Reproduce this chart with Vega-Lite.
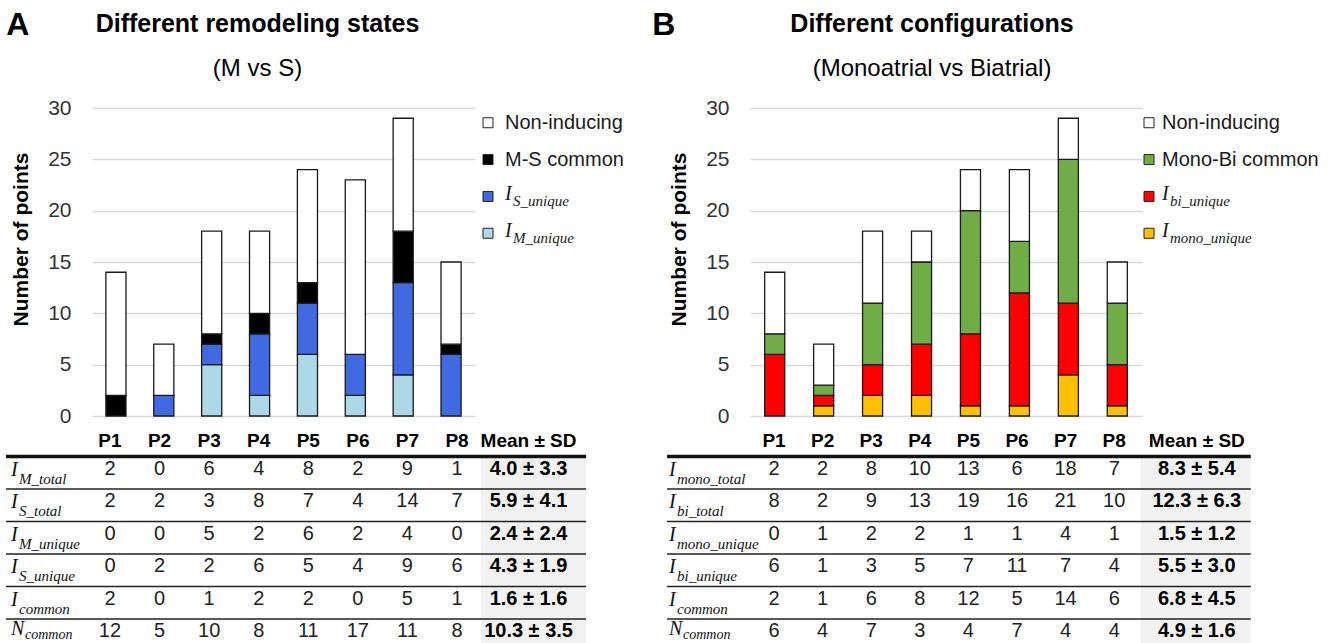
{
  "$schema": "https://vega.github.io/schema/vega-lite/v6.json",
  "background": "white",
  "padding": {"left": 4, "top": 9, "right": 5, "bottom": 0},
  "config": {
    "view": {"stroke": null},
    "font": "Liberation Sans, Arial, sans-serif",
    "title": {"color": "#000", "subtitleColor": "#000"}
  },
  "datasets": {
    "barsA": [
      {"p": "P1", "cat": "M-S common", "n": 2}, {"p": "P1", "cat": "Non-inducing", "n": 12},
      {"p": "P2", "cat": "I_S_unique", "n": 2}, {"p": "P2", "cat": "Non-inducing", "n": 5},
      {"p": "P3", "cat": "I_M_unique", "n": 5}, {"p": "P3", "cat": "I_S_unique", "n": 2}, {"p": "P3", "cat": "M-S common", "n": 1}, {"p": "P3", "cat": "Non-inducing", "n": 10},
      {"p": "P4", "cat": "I_M_unique", "n": 2}, {"p": "P4", "cat": "I_S_unique", "n": 6}, {"p": "P4", "cat": "M-S common", "n": 2}, {"p": "P4", "cat": "Non-inducing", "n": 8},
      {"p": "P5", "cat": "I_M_unique", "n": 6}, {"p": "P5", "cat": "I_S_unique", "n": 5}, {"p": "P5", "cat": "M-S common", "n": 2}, {"p": "P5", "cat": "Non-inducing", "n": 11},
      {"p": "P6", "cat": "I_M_unique", "n": 2}, {"p": "P6", "cat": "I_S_unique", "n": 4}, {"p": "P6", "cat": "Non-inducing", "n": 17},
      {"p": "P7", "cat": "I_M_unique", "n": 4}, {"p": "P7", "cat": "I_S_unique", "n": 9}, {"p": "P7", "cat": "M-S common", "n": 5}, {"p": "P7", "cat": "Non-inducing", "n": 11},
      {"p": "P8", "cat": "I_S_unique", "n": 6}, {"p": "P8", "cat": "M-S common", "n": 1}, {"p": "P8", "cat": "Non-inducing", "n": 8}
    ],
    "barsB": [
      {"p": "P1", "cat": "I_bi_unique", "n": 6}, {"p": "P1", "cat": "Mono-Bi common", "n": 2}, {"p": "P1", "cat": "Non-inducing", "n": 6},
      {"p": "P2", "cat": "I_mono_unique", "n": 1}, {"p": "P2", "cat": "I_bi_unique", "n": 1}, {"p": "P2", "cat": "Mono-Bi common", "n": 1}, {"p": "P2", "cat": "Non-inducing", "n": 4},
      {"p": "P3", "cat": "I_mono_unique", "n": 2}, {"p": "P3", "cat": "I_bi_unique", "n": 3}, {"p": "P3", "cat": "Mono-Bi common", "n": 6}, {"p": "P3", "cat": "Non-inducing", "n": 7},
      {"p": "P4", "cat": "I_mono_unique", "n": 2}, {"p": "P4", "cat": "I_bi_unique", "n": 5}, {"p": "P4", "cat": "Mono-Bi common", "n": 8}, {"p": "P4", "cat": "Non-inducing", "n": 3},
      {"p": "P5", "cat": "I_mono_unique", "n": 1}, {"p": "P5", "cat": "I_bi_unique", "n": 7}, {"p": "P5", "cat": "Mono-Bi common", "n": 12}, {"p": "P5", "cat": "Non-inducing", "n": 4},
      {"p": "P6", "cat": "I_mono_unique", "n": 1}, {"p": "P6", "cat": "I_bi_unique", "n": 11}, {"p": "P6", "cat": "Mono-Bi common", "n": 5}, {"p": "P6", "cat": "Non-inducing", "n": 7},
      {"p": "P7", "cat": "I_mono_unique", "n": 4}, {"p": "P7", "cat": "I_bi_unique", "n": 7}, {"p": "P7", "cat": "Mono-Bi common", "n": 14}, {"p": "P7", "cat": "Non-inducing", "n": 4},
      {"p": "P8", "cat": "I_mono_unique", "n": 1}, {"p": "P8", "cat": "I_bi_unique", "n": 4}, {"p": "P8", "cat": "Mono-Bi common", "n": 6}, {"p": "P8", "cat": "Non-inducing", "n": 4}
    ],
    "legA": [
      {"cat": "Non-inducing", "main": "Non-inducing", "sub": ""},
      {"cat": "M-S common", "main": "M-S common", "sub": ""},
      {"cat": "I_S_unique", "main": "I", "sub": "S_unique"},
      {"cat": "I_M_unique", "main": "I", "sub": "M_unique"}
    ],
    "legB": [
      {"cat": "Non-inducing", "main": "Non-inducing", "sub": ""},
      {"cat": "Mono-Bi common", "main": "Mono-Bi common", "sub": ""},
      {"cat": "I_bi_unique", "main": "I", "sub": "bi_unique"},
      {"cat": "I_mono_unique", "main": "I", "sub": "mono_unique"}
    ],
    "tabA": [
      {"r": 1, "main": "I", "sub": "M_total", "P1": 2, "P2": 0, "P3": 6, "P4": 4, "P5": 8, "P6": 2, "P7": 9, "P8": 1, "mean": "4.0 ± 3.3"},
      {"r": 2, "main": "I", "sub": "S_total", "P1": 2, "P2": 2, "P3": 3, "P4": 8, "P5": 7, "P6": 4, "P7": 14, "P8": 7, "mean": "5.9 ± 4.1"},
      {"r": 3, "main": "I", "sub": "M_unique", "P1": 0, "P2": 0, "P3": 5, "P4": 2, "P5": 6, "P6": 2, "P7": 4, "P8": 0, "mean": "2.4 ± 2.4"},
      {"r": 4, "main": "I", "sub": "S_unique", "P1": 0, "P2": 2, "P3": 2, "P4": 6, "P5": 5, "P6": 4, "P7": 9, "P8": 6, "mean": "4.3 ± 1.9"},
      {"r": 5, "main": "I", "sub": "common", "P1": 2, "P2": 0, "P3": 1, "P4": 2, "P5": 2, "P6": 0, "P7": 5, "P8": 1, "mean": "1.6 ± 1.6"},
      {"r": 6, "main": "N", "sub": "common", "P1": 12, "P2": 5, "P3": 10, "P4": 8, "P5": 11, "P6": 17, "P7": 11, "P8": 8, "mean": "10.3 ± 3.5"}
    ],
    "tabB": [
      {"r": 1, "main": "I", "sub": "mono_total", "P1": 2, "P2": 2, "P3": 8, "P4": 10, "P5": 13, "P6": 6, "P7": 18, "P8": 7, "mean": "8.3 ± 5.4"},
      {"r": 2, "main": "I", "sub": "bi_total", "P1": 8, "P2": 2, "P3": 9, "P4": 13, "P5": 19, "P6": 16, "P7": 21, "P8": 10, "mean": "12.3 ± 6.3"},
      {"r": 3, "main": "I", "sub": "mono_unique", "P1": 0, "P2": 1, "P3": 2, "P4": 2, "P5": 1, "P6": 1, "P7": 4, "P8": 1, "mean": "1.5 ± 1.2"},
      {"r": 4, "main": "I", "sub": "bi_unique", "P1": 6, "P2": 1, "P3": 3, "P4": 5, "P5": 7, "P6": 11, "P7": 7, "P8": 4, "mean": "5.5 ± 3.0"},
      {"r": 5, "main": "I", "sub": "common", "P1": 2, "P2": 1, "P3": 6, "P4": 8, "P5": 12, "P6": 5, "P7": 14, "P8": 6, "mean": "6.8 ± 4.5"},
      {"r": 6, "main": "N", "sub": "common", "P1": 6, "P2": 4, "P3": 7, "P4": 3, "P5": 4, "P6": 7, "P7": 4, "P8": 4, "mean": "4.9 ± 1.6"}
    ]
  },
  "spacing": 28,
  "hconcat": [
    {
      "title": {"text": "A", "anchor": "start", "frame": "bounds", "fontSize": 32, "fontWeight": "bold", "offset": -30, "dx": 2},
      "spacing": 0,
      "vconcat": [
        {
          "spacing": 6,
          "hconcat": [
            {
              "width": 383, "height": 308,
              "data": {"name": "barsA"},
              "title": {"text": "Different remodeling states", "subtitle": "(M vs S)", "anchor": "middle", "dx": -26, "fontSize": 25, "fontWeight": "bold", "subtitleFontSize": 24, "subtitlePadding": 20, "offset": 16},
              "transform": [{"calculate": "indexof(['I_M_unique','I_mono_unique','I_S_unique','I_bi_unique','M-S common','Mono-Bi common','Non-inducing'], datum.cat)", "as": "ord"}],
              "mark": {"type": "bar", "stroke": "#1a1a1a", "strokeWidth": 1.3},
              "encoding": {
                "x": {"field": "p", "type": "nominal", "axis": null, "scale": {"paddingInner": 0.58, "paddingOuter": 0.29}},
                "y": {"field": "n", "type": "quantitative", "stack": "zero", "scale": {"domain": [0, 30], "nice": false},
                  "axis": {"values": [0, 5, 10, 15, 20, 25, 30], "title": "Number of points", "titleFontSize": 21, "titleFontWeight": "bold", "titleColor": "#000", "titlePadding": 16, "titleY": 131, "labelFontSize": 21, "labelColor": "#333", "labelPadding": 21, "ticks": false, "domain": false, "gridColor": "#d9d9d9", "gridWidth": 1.3}},
                "color": {"field": "cat", "type": "nominal", "legend": null, "scale": {"domain": ["Non-inducing", "M-S common", "I_S_unique", "I_M_unique", "Mono-Bi common", "I_bi_unique", "I_mono_unique"], "range": ["#ffffff", "#000000", "#4169e1", "#add8e6", "#70ad47", "#ff0000", "#ffc000"]}},
                "order": {"field": "ord", "type": "quantitative"}
              }
            },
            {
              "width": 10, "height": 140,
              "data": {"name": "legA"},
              "encoding": {"y": {"field": "cat", "type": "nominal", "sort": null, "axis": null, "scale": {"padding": 0.4}}},
              "layer": [
                {"mark": {"type": "point", "shape": "square", "filled": true, "size": 100, "stroke": "#222", "strokeWidth": 1, "opacity": 1},
                 "encoding": {"color": {"field": "cat", "type": "nominal", "legend": null}}},
                {"transform": [{"filter": "datum.sub === ''"}],
                 "mark": {"type": "text", "align": "left", "baseline": "middle", "dx": 17, "fontSize": 20, "color": "#1a1a1a"},
                 "encoding": {"text": {"field": "main"}}},
                {"transform": [{"filter": "datum.sub !== ''"}],
                 "mark": {"type": "text", "align": "left", "baseline": "middle", "dx": 17, "dy": -2, "fontSize": 20, "font": "Liberation Serif, serif", "fontStyle": "italic", "color": "#1a1a1a"},
                 "encoding": {"text": {"field": "main"}}},
                {"transform": [{"filter": "datum.sub !== ''"}],
                 "mark": {"type": "text", "align": "left", "baseline": "middle", "dx": 25, "dy": 5, "fontSize": 15, "font": "Liberation Serif, serif", "fontStyle": "italic", "color": "#1a1a1a"},
                 "encoding": {"text": {"field": "sub"}}}
              ]
            }
          ]
        },
        {
          "width": 383, "height": 221,
          "data": {"name": "tabA"},
          "layer": [
            {"data": {"values": [{}]}, "mark": {"type": "rect", "fill": "#f2f2f2"},
             "encoding": {"x": {"datum": 8.478, "type": "quantitative", "scale": {"domain": [0.637, 8.363], "nice": false, "zero": false}, "axis": null}, "x2": {"datum": 10.603},
                          "y": {"datum": 0.5, "type": "quantitative", "scale": {"domain": [-0.44, 6.36], "nice": false, "zero": false, "reverse": true}, "axis": null}, "y2": {"datum": 6.36}}},
            {"transform": [{"filter": "datum.r < 6"}, {"calculate": "datum.r + 0.5", "as": "rb"}],
             "mark": {"type": "rule", "stroke": "#222", "strokeWidth": 1.5},
             "encoding": {"x": {"datum": -1.098, "type": "quantitative"}, "x2": {"datum": 10.603}, "y": {"field": "rb", "type": "quantitative"}}},
            {"data": {"values": [{}]}, "mark": {"type": "rule", "stroke": "#111", "strokeWidth": 3.5},
             "encoding": {"x": {"datum": -1.098, "type": "quantitative"}, "x2": {"datum": 10.603}, "y": {"datum": 0.5, "type": "quantitative"}}},
            {"transform": [{"filter": "datum.r === 1"}, {"fold": ["P1", "P2", "P3", "P4", "P5", "P6", "P7", "P8"], "as": ["col", "val"]}, {"calculate": "indexof(['P1','P2','P3','P4','P5','P6','P7','P8'], datum.col) + 1", "as": "ci"}],
             "mark": {"type": "text", "fontSize": 19, "fontWeight": "bold", "color": "#000", "baseline": "middle", "dy": 1},
             "encoding": {"x": {"field": "ci", "type": "quantitative"}, "y": {"datum": 0, "type": "quantitative"}, "text": {"field": "col"}}},
            {"data": {"values": [{}]},
             "mark": {"type": "text", "fontSize": 19, "fontWeight": "bold", "color": "#000", "baseline": "middle", "dy": 1, "text": "Mean ± SD"},
             "encoding": {"x": {"datum": 9.443, "type": "quantitative"}, "y": {"datum": 0, "type": "quantitative"}}},
            {"transform": [{"fold": ["P1", "P2", "P3", "P4", "P5", "P6", "P7", "P8"], "as": ["col", "val"]}, {"calculate": "indexof(['P1','P2','P3','P4','P5','P6','P7','P8'], datum.col) + 1", "as": "ci"}],
             "mark": {"type": "text", "fontSize": 20, "color": "#222", "baseline": "middle", "dy": -4},
             "encoding": {"x": {"field": "ci", "type": "quantitative"}, "y": {"field": "r", "type": "quantitative"}, "text": {"field": "val", "type": "nominal"}}},
            {"mark": {"type": "text", "fontSize": 20, "fontWeight": "bold", "color": "#000", "baseline": "middle", "dy": -4},
             "encoding": {"x": {"datum": 9.443, "type": "quantitative"}, "y": {"field": "r", "type": "quantitative"}, "text": {"field": "mean"}}},
            {"transform": [{"filter": "datum.main === 'I'"}],
             "mark": {"type": "text", "fontSize": 20, "font": "Liberation Serif, serif", "fontStyle": "italic", "color": "#111", "align": "left", "baseline": "middle", "dy": -3},
             "encoding": {"x": {"datum": -0.997, "type": "quantitative"}, "y": {"field": "r", "type": "quantitative"}, "text": {"field": "main"}}},
            {"transform": [{"filter": "datum.main === 'N'"}],
             "mark": {"type": "text", "fontSize": 20, "font": "Liberation Serif, serif", "fontStyle": "italic", "color": "#111", "align": "left", "baseline": "middle", "dy": -6},
             "encoding": {"x": {"datum": -0.997, "type": "quantitative"}, "y": {"field": "r", "type": "quantitative"}, "text": {"field": "main"}}},
            {"transform": [{"filter": "datum.main === 'I'"}],
             "mark": {"type": "text", "fontSize": 15, "font": "Liberation Serif, serif", "fontStyle": "italic", "color": "#111", "align": "left", "baseline": "middle", "dx": 8, "dy": 6},
             "encoding": {"x": {"datum": -0.997, "type": "quantitative"}, "y": {"field": "r", "type": "quantitative"}, "text": {"field": "sub"}}},
            {"transform": [{"filter": "datum.main === 'N'"}],
             "mark": {"type": "text", "fontSize": 14, "font": "Liberation Serif, serif", "fontStyle": "italic", "color": "#111", "align": "left", "baseline": "middle", "dx": 14, "dy": 0},
             "encoding": {"x": {"datum": -0.997, "type": "quantitative"}, "y": {"field": "r", "type": "quantitative"}, "text": {"field": "sub"}}}
          ]
        }
      ]
    },
    {
      "title": {"text": "B", "anchor": "start", "frame": "bounds", "fontSize": 32, "fontWeight": "bold", "offset": -30, "dx": -13},
      "spacing": 0,
      "vconcat": [
        {
          "spacing": 0,
          "hconcat": [
            {
              "width": 392, "height": 308,
              "data": {"name": "barsB"},
              "title": {"text": "Different configurations", "subtitle": "(Monoatrial vs Biatrial)", "anchor": "middle", "dx": -14, "fontSize": 25, "fontWeight": "bold", "subtitleFontSize": 24, "subtitlePadding": 20, "offset": 16},
              "transform": [{"calculate": "indexof(['I_M_unique','I_mono_unique','I_S_unique','I_bi_unique','M-S common','Mono-Bi common','Non-inducing'], datum.cat)", "as": "ord"}],
              "mark": {"type": "bar", "stroke": "#1a1a1a", "strokeWidth": 1.3},
              "encoding": {
                "x": {"field": "p", "type": "nominal", "axis": null, "scale": {"paddingInner": 0.59, "paddingOuter": 0.3}},
                "y": {"field": "n", "type": "quantitative", "stack": "zero", "scale": {"domain": [0, 30], "nice": false},
                  "axis": {"values": [0, 5, 10, 15, 20, 25, 30], "title": "Number of points", "titleFontSize": 21, "titleFontWeight": "bold", "titleColor": "#000", "titlePadding": 16, "titleY": 131, "labelFontSize": 21, "labelColor": "#333", "labelPadding": 21, "ticks": false, "domain": false, "gridColor": "#d9d9d9", "gridWidth": 1.3}},
                "color": {"field": "cat", "type": "nominal", "legend": null, "scale": {"domain": ["Non-inducing", "M-S common", "I_S_unique", "I_M_unique", "Mono-Bi common", "I_bi_unique", "I_mono_unique"], "range": ["#ffffff", "#000000", "#4169e1", "#add8e6", "#70ad47", "#ff0000", "#ffc000"]}},
                "order": {"field": "ord", "type": "quantitative"}
              }
            },
            {
              "width": 10, "height": 140,
              "data": {"name": "legB"},
              "encoding": {"y": {"field": "cat", "type": "nominal", "sort": null, "axis": null, "scale": {"padding": 0.4}}},
              "layer": [
                {"mark": {"type": "point", "shape": "square", "filled": true, "size": 100, "stroke": "#222", "strokeWidth": 1, "opacity": 1},
                 "encoding": {"color": {"field": "cat", "type": "nominal", "legend": null}}},
                {"transform": [{"filter": "datum.sub === ''"}],
                 "mark": {"type": "text", "align": "left", "baseline": "middle", "dx": 13, "fontSize": 20, "color": "#1a1a1a"},
                 "encoding": {"text": {"field": "main"}}},
                {"transform": [{"filter": "datum.sub !== ''"}],
                 "mark": {"type": "text", "align": "left", "baseline": "middle", "dx": 13, "dy": -2, "fontSize": 20, "font": "Liberation Serif, serif", "fontStyle": "italic", "color": "#1a1a1a"},
                 "encoding": {"text": {"field": "main"}}},
                {"transform": [{"filter": "datum.sub !== ''"}],
                 "mark": {"type": "text", "align": "left", "baseline": "middle", "dx": 21, "dy": 5, "fontSize": 15, "font": "Liberation Serif, serif", "fontStyle": "italic", "color": "#1a1a1a"},
                 "encoding": {"text": {"field": "sub"}}}
              ]
            }
          ]
        },
        {
          "width": 392, "height": 221,
          "data": {"name": "tabB"},
          "layer": [
            {"data": {"values": [{}]}, "mark": {"type": "rect", "fill": "#f2f2f2"},
             "encoding": {"x": {"datum": 8.55, "type": "quantitative", "scale": {"domain": [0.506, 8.572], "nice": false, "zero": false}, "axis": null}, "x2": {"datum": 10.81},
                          "y": {"datum": 0.5, "type": "quantitative", "scale": {"domain": [-0.44, 6.36], "nice": false, "zero": false, "reverse": true}, "axis": null}, "y2": {"datum": 6.36}}},
            {"transform": [{"filter": "datum.r < 6"}, {"calculate": "datum.r + 0.5", "as": "rb"}],
             "mark": {"type": "rule", "stroke": "#222", "strokeWidth": 1.5},
             "encoding": {"x": {"datum": -1.2, "type": "quantitative"}, "x2": {"datum": 10.81}, "y": {"field": "rb", "type": "quantitative"}}},
            {"data": {"values": [{}]}, "mark": {"type": "rule", "stroke": "#111", "strokeWidth": 3.5},
             "encoding": {"x": {"datum": -1.2, "type": "quantitative"}, "x2": {"datum": 10.81}, "y": {"datum": 0.5, "type": "quantitative"}}},
            {"transform": [{"filter": "datum.r === 1"}, {"fold": ["P1", "P2", "P3", "P4", "P5", "P6", "P7", "P8"], "as": ["col", "val"]}, {"calculate": "indexof(['P1','P2','P3','P4','P5','P6','P7','P8'], datum.col) + 1", "as": "ci"}],
             "mark": {"type": "text", "fontSize": 19, "fontWeight": "bold", "color": "#000", "baseline": "middle", "dy": 1},
             "encoding": {"x": {"field": "ci", "type": "quantitative"}, "y": {"datum": 0, "type": "quantitative"}, "text": {"field": "col"}}},
            {"data": {"values": [{}]},
             "mark": {"type": "text", "fontSize": 19, "fontWeight": "bold", "color": "#000", "baseline": "middle", "dy": 1, "text": "Mean ± SD"},
             "encoding": {"x": {"datum": 9.7, "type": "quantitative"}, "y": {"datum": 0, "type": "quantitative"}}},
            {"transform": [{"fold": ["P1", "P2", "P3", "P4", "P5", "P6", "P7", "P8"], "as": ["col", "val"]}, {"calculate": "indexof(['P1','P2','P3','P4','P5','P6','P7','P8'], datum.col) + 1", "as": "ci"}],
             "mark": {"type": "text", "fontSize": 20, "color": "#222", "baseline": "middle", "dy": -4},
             "encoding": {"x": {"field": "ci", "type": "quantitative"}, "y": {"field": "r", "type": "quantitative"}, "text": {"field": "val", "type": "nominal"}}},
            {"mark": {"type": "text", "fontSize": 20, "fontWeight": "bold", "color": "#000", "baseline": "middle", "dy": -4},
             "encoding": {"x": {"datum": 9.7, "type": "quantitative"}, "y": {"field": "r", "type": "quantitative"}, "text": {"field": "mean"}}},
            {"transform": [{"filter": "datum.main === 'I'"}],
             "mark": {"type": "text", "fontSize": 20, "font": "Liberation Serif, serif", "fontStyle": "italic", "color": "#111", "align": "left", "baseline": "middle", "dy": -3},
             "encoding": {"x": {"datum": -1.16, "type": "quantitative"}, "y": {"field": "r", "type": "quantitative"}, "text": {"field": "main"}}},
            {"transform": [{"filter": "datum.main === 'N'"}],
             "mark": {"type": "text", "fontSize": 20, "font": "Liberation Serif, serif", "fontStyle": "italic", "color": "#111", "align": "left", "baseline": "middle", "dy": -6},
             "encoding": {"x": {"datum": -1.16, "type": "quantitative"}, "y": {"field": "r", "type": "quantitative"}, "text": {"field": "main"}}},
            {"transform": [{"filter": "datum.main === 'I'"}],
             "mark": {"type": "text", "fontSize": 15, "font": "Liberation Serif, serif", "fontStyle": "italic", "color": "#111", "align": "left", "baseline": "middle", "dx": 8, "dy": 6},
             "encoding": {"x": {"datum": -1.16, "type": "quantitative"}, "y": {"field": "r", "type": "quantitative"}, "text": {"field": "sub"}}},
            {"transform": [{"filter": "datum.main === 'N'"}],
             "mark": {"type": "text", "fontSize": 14, "font": "Liberation Serif, serif", "fontStyle": "italic", "color": "#111", "align": "left", "baseline": "middle", "dx": 14, "dy": 0},
             "encoding": {"x": {"datum": -1.16, "type": "quantitative"}, "y": {"field": "r", "type": "quantitative"}, "text": {"field": "sub"}}}
          ]
        }
      ]
    }
  ]
}
